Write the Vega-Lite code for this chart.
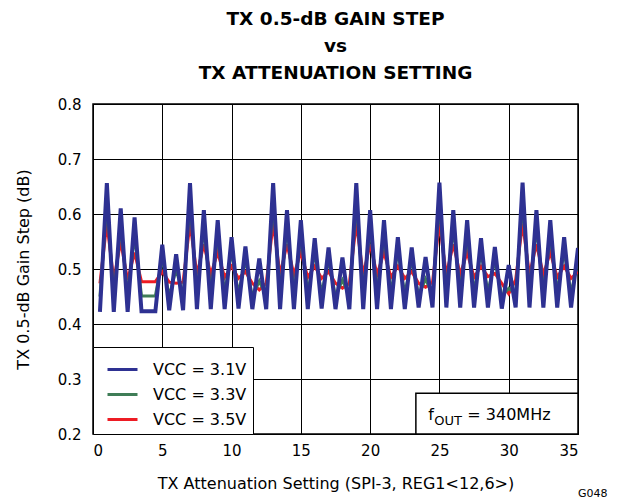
{
  "$schema": "https://vega.github.io/schema/vega-lite/v6.json",
  "width": 485,
  "height": 330,
  "autosize": {"type": "none"},
  "padding": {"left": 93, "top": 104, "right": 40, "bottom": 70},
  "background": "white",
  "title": {
    "text": ["TX 0.5-dB GAIN STEP", "vs", "TX ATTENUATION SETTING"],
    "fontSize": 18.5,
    "font": "DejaVu Sans",
    "fontWeight": "bold",
    "lineHeight": 27.3,
    "offset": 14,
    "anchor": "middle",
    "color": "black"
  },
  "config": {
    "font": "DejaVu Sans",
    "view": {"stroke": "black", "strokeWidth": 1.5},
    "axis": {
      "labelFont": "DejaVu Sans",
      "titleFont": "DejaVu Sans",
      "labelFontSize": 15,
      "titleFontSize": 16,
      "titleFontWeight": "normal",
      "labelColor": "black",
      "titleColor": "black",
      "grid": true,
      "gridColor": "black",
      "gridOpacity": 1,
      "gridWidth": 1,
      "domain": false,
      "ticks": false
    },
    "legend": {
      "orient": "bottom-left",
      "offset": 0,
      "strokeColor": "black",
      "fillColor": "white",
      "padding": 6,
      "symbolType": "stroke",
      "symbolSize": 900,
      "symbolStrokeWidth": 3,
      "symbolOffset": 7,
      "labelFont": "DejaVu Sans",
      "labelFontSize": 16,
      "labelColor": "black",
      "labelOffset": 14,
      "rowPadding": -8
    }
  },
  "data": {
    "values": [
      {"x": 0.5, "b": 0.422, "g": 0.450, "r": 0.474},
      {"x": 1, "b": 0.656, "g": 0.620, "r": 0.583},
      {"x": 1.5, "b": 0.422, "g": 0.451, "r": 0.480},
      {"x": 2, "b": 0.610, "g": 0.580, "r": 0.550},
      {"x": 2.5, "b": 0.422, "g": 0.451, "r": 0.480},
      {"x": 3, "b": 0.594, "g": 0.562, "r": 0.530},
      {"x": 3.5, "b": 0.423, "g": 0.451, "r": 0.477},
      {"x": 4, "b": 0.423, "g": 0.451, "r": 0.477},
      {"x": 4.5, "b": 0.423, "g": 0.451, "r": 0.477},
      {"x": 5, "b": 0.544, "g": 0.520, "r": 0.495},
      {"x": 5.5, "b": 0.425, "g": 0.450, "r": 0.476},
      {"x": 6, "b": 0.527, "g": 0.500, "r": 0.474},
      {"x": 6.5, "b": 0.425, "g": 0.450, "r": 0.476},
      {"x": 7, "b": 0.656, "g": 0.620, "r": 0.583},
      {"x": 7.5, "b": 0.427, "g": 0.458, "r": 0.490},
      {"x": 8, "b": 0.607, "g": 0.576, "r": 0.545},
      {"x": 8.5, "b": 0.427, "g": 0.458, "r": 0.490},
      {"x": 9, "b": 0.589, "g": 0.560, "r": 0.530},
      {"x": 9.5, "b": 0.427, "g": 0.456, "r": 0.485},
      {"x": 10, "b": 0.558, "g": 0.532, "r": 0.505},
      {"x": 10.5, "b": 0.428, "g": 0.455, "r": 0.483},
      {"x": 11, "b": 0.541, "g": 0.518, "r": 0.495},
      {"x": 11.5, "b": 0.427, "g": 0.450, "r": 0.474},
      {"x": 12, "b": 0.519, "g": 0.478, "r": 0.462},
      {"x": 12.5, "b": 0.427, "g": 0.450, "r": 0.474},
      {"x": 13, "b": 0.656, "g": 0.620, "r": 0.583},
      {"x": 13.5, "b": 0.427, "g": 0.458, "r": 0.490},
      {"x": 14, "b": 0.607, "g": 0.576, "r": 0.545},
      {"x": 14.5, "b": 0.427, "g": 0.458, "r": 0.490},
      {"x": 15, "b": 0.589, "g": 0.560, "r": 0.530},
      {"x": 15.5, "b": 0.427, "g": 0.456, "r": 0.485},
      {"x": 16, "b": 0.556, "g": 0.530, "r": 0.505},
      {"x": 16.5, "b": 0.428, "g": 0.455, "r": 0.483},
      {"x": 17, "b": 0.539, "g": 0.517, "r": 0.495},
      {"x": 17.5, "b": 0.427, "g": 0.450, "r": 0.474},
      {"x": 18, "b": 0.521, "g": 0.480, "r": 0.465},
      {"x": 18.5, "b": 0.427, "g": 0.450, "r": 0.474},
      {"x": 19, "b": 0.656, "g": 0.620, "r": 0.583},
      {"x": 19.5, "b": 0.427, "g": 0.458, "r": 0.490},
      {"x": 20, "b": 0.607, "g": 0.576, "r": 0.545},
      {"x": 20.5, "b": 0.427, "g": 0.458, "r": 0.490},
      {"x": 21, "b": 0.589, "g": 0.560, "r": 0.530},
      {"x": 21.5, "b": 0.427, "g": 0.456, "r": 0.485},
      {"x": 22, "b": 0.558, "g": 0.532, "r": 0.505},
      {"x": 22.5, "b": 0.427, "g": 0.455, "r": 0.483},
      {"x": 23, "b": 0.539, "g": 0.517, "r": 0.495},
      {"x": 23.5, "b": 0.430, "g": 0.452, "r": 0.474},
      {"x": 24, "b": 0.522, "g": 0.482, "r": 0.467},
      {"x": 24.5, "b": 0.430, "g": 0.453, "r": 0.476},
      {"x": 25, "b": 0.657, "g": 0.620, "r": 0.583},
      {"x": 25.5, "b": 0.430, "g": 0.460, "r": 0.490},
      {"x": 26, "b": 0.607, "g": 0.576, "r": 0.545},
      {"x": 26.5, "b": 0.430, "g": 0.460, "r": 0.490},
      {"x": 27, "b": 0.589, "g": 0.560, "r": 0.530},
      {"x": 27.5, "b": 0.430, "g": 0.458, "r": 0.485},
      {"x": 28, "b": 0.556, "g": 0.530, "r": 0.505},
      {"x": 28.5, "b": 0.430, "g": 0.458, "r": 0.486},
      {"x": 29, "b": 0.540, "g": 0.516, "r": 0.492},
      {"x": 29.5, "b": 0.428, "g": 0.451, "r": 0.474},
      {"x": 30, "b": 0.507, "g": 0.465, "r": 0.455},
      {"x": 30.5, "b": 0.430, "g": 0.455, "r": 0.480},
      {"x": 31, "b": 0.657, "g": 0.620, "r": 0.583},
      {"x": 31.5, "b": 0.430, "g": 0.460, "r": 0.490},
      {"x": 32, "b": 0.607, "g": 0.576, "r": 0.545},
      {"x": 32.5, "b": 0.430, "g": 0.460, "r": 0.490},
      {"x": 33, "b": 0.589, "g": 0.560, "r": 0.530},
      {"x": 33.5, "b": 0.430, "g": 0.458, "r": 0.485},
      {"x": 34, "b": 0.558, "g": 0.532, "r": 0.505},
      {"x": 34.5, "b": 0.430, "g": 0.456, "r": 0.483},
      {"x": 35, "b": 0.538, "g": 0.516, "r": 0.495}
    ]
  },
  "layer": [
    {
      "mark": {"type": "line", "strokeWidth": 3, "clip": true},
      "encoding": {
        "x": {"field": "x", "type": "quantitative", "scale": {"domain": [0, 35], "nice": false},
          "axis": {"values": [0, 5, 10, 15, 20, 25, 30, 35], "title": "TX Attenuation Setting (SPI-3, REG1<12,6>)", "labelPadding": 9, "titlePadding": 17}},
        "y": {"field": "r", "type": "quantitative", "scale": {"domain": [0.2, 0.8], "nice": false},
          "axis": {"values": [0.2, 0.3, 0.4, 0.5, 0.6, 0.7, 0.8], "format": ".1f", "title": "TX 0.5-dB Gain Step (dB)", "labelPadding": 12, "titlePadding": 26}},
        "color": {"datum": "VCC = 3.5V", "type": "nominal",
          "scale": {"domain": ["VCC = 3.1V", "VCC = 3.3V", "VCC = 3.5V"], "range": ["#2E3192", "#3F7D57", "#ED1C24"]},
          "legend": {"title": null}}
      }
    },
    {
      "mark": {"type": "line", "strokeWidth": 3, "clip": true},
      "encoding": {
        "x": {"field": "x", "type": "quantitative"},
        "y": {"field": "g", "type": "quantitative"},
        "color": {"datum": "VCC = 3.3V", "type": "nominal"}
      }
    },
    {
      "mark": {"type": "line", "strokeWidth": 4, "clip": true},
      "encoding": {
        "x": {"field": "x", "type": "quantitative"},
        "y": {"field": "b", "type": "quantitative"},
        "color": {"datum": "VCC = 3.1V", "type": "nominal"}
      }
    },
    {
      "data": {"values": [{}]},
      "mark": {"type": "rect", "fill": "white", "stroke": "black", "strokeWidth": 1.5},
      "encoding": {
        "x": {"datum": 23.3, "type": "quantitative"},
        "x2": {"datum": 35},
        "y": {"datum": 0.2, "type": "quantitative"},
        "y2": {"datum": 0.274}
      }
    },
    {
      "data": {"values": [{}]},
      "mark": {"type": "text", "text": "f", "fontSize": 16, "align": "left", "baseline": "alphabetic", "color": "black"},
      "encoding": {
        "x": {"datum": 24.2, "type": "quantitative"},
        "y": {"datum": 0.2255, "type": "quantitative"}
      }
    },
    {
      "data": {"values": [{}]},
      "mark": {"type": "text", "text": "OUT", "fontSize": 13, "align": "left", "baseline": "alphabetic", "dx": 6, "dy": 5, "color": "black"},
      "encoding": {
        "x": {"datum": 24.2, "type": "quantitative"},
        "y": {"datum": 0.2255, "type": "quantitative"}
      }
    },
    {
      "data": {"values": [{}]},
      "mark": {"type": "text", "text": "= 340MHz", "fontSize": 16, "align": "left", "baseline": "alphabetic", "dx": 39, "color": "black"},
      "encoding": {
        "x": {"datum": 24.2, "type": "quantitative"},
        "y": {"datum": 0.2255, "type": "quantitative"}
      }
    },
    {
      "data": {"values": [{}]},
      "mark": {"type": "text", "text": "G048", "fontSize": 11, "align": "left", "baseline": "alphabetic", "dy": 63, "dx": 0, "color": "black"},
      "encoding": {
        "x": {"datum": 35, "type": "quantitative"},
        "y": {"datum": 0.2, "type": "quantitative"}
      }
    }
  ]
}
